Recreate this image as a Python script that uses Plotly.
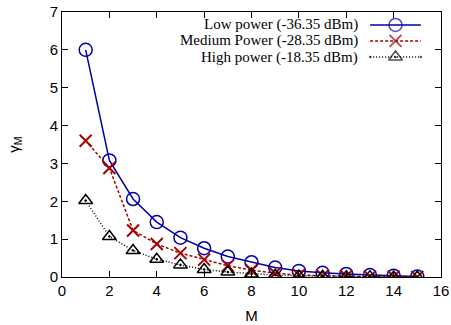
import plotly.graph_objects as go

# Number of antennas M and the resulting gamma_M for three transmit power levels
m_values = list(range(1, 16))
low_power = [6.0, 3.08, 2.06, 1.45, 1.04, 0.76, 0.54, 0.39, 0.25, 0.16, 0.11, 0.08, 0.05, 0.03, 0.01]
medium_power = [3.6, 2.88, 1.23, 0.87, 0.63, 0.46, 0.30, 0.18, 0.10, 0.05, 0.03, 0.02, 0.01, 0.01, 0.0]
high_power = [2.02, 1.07, 0.70, 0.47, 0.32, 0.20, 0.13, 0.08, 0.05, 0.03, 0.02, 0.01, 0.01, 0.0, 0.0]

series_names = [
    "Low power (-36.35 dBm)",
    "Medium Power (-28.35 dBm)",
    "High power (-18.35 dBm)",
]

styles = [
    dict(color="#0000a8", dash="solid", symbol="circle-open", size=13, mw=1.5),
    dict(color="#a80000", dash="3px,2px", symbol="x-thin-open", size=12, mw=2),
    dict(color="#000000", dash="1px,2px", symbol="triangle-up-open-dot", size=12, mw=1.5),
]

fig = go.Figure()
for name, ys, st in zip(series_names, [low_power, medium_power, high_power], styles):
    fig.add_trace(go.Scatter(
        x=m_values, y=ys, name=name, mode="lines+markers",
        line=dict(color=st["color"], width=1.5, dash=st["dash"]),
        marker=dict(symbol=st["symbol"], size=st["size"],
                    color=st["color"], line=dict(color=st["color"], width=st["mw"])),
        showlegend=False,
    ))

# Key drawn gnuplot-style: right-aligned text with the line sample to its right,
# placed on an overlaid unit axis pair
key_rows = [0.951, 0.891, 0.830]
key_x = [0.813, 0.880, 0.947]
for name, row, st in zip(series_names, key_rows, styles):
    fig.add_trace(go.Scatter(
        x=key_x, y=[row] * 3, xaxis="x2", yaxis="y2",
        mode="lines+markers",
        line=dict(color=st["color"], width=1.5, dash=st["dash"]),
        marker=dict(symbol=st["symbol"], size=[0, st["size"], 0],
                    color=st["color"], line=dict(color=st["color"], width=st["mw"])),
        showlegend=False, hoverinfo="skip",
    ))
    fig.add_annotation(
        text=name, xref="x2", yref="y2", x=0.787, y=row,
        xanchor="right", yanchor="middle", showarrow=False,
        font=dict(family="Liberation Serif", size=15, color="#000000"),
    )

axis_common = dict(
    showline=True, linecolor="#000000", linewidth=1, mirror="ticks",
    ticks="inside", ticklen=6, tickwidth=1, tickcolor="#000000",
    showgrid=False, zeroline=False, automargin=False,
    tickfont=dict(family="Liberation Sans", size=15, color="#000000"),
)

fig.update_layout(
    width=451, height=325,
    margin=dict(l=62, r=10, t=12, b=48),
    paper_bgcolor="#ffffff", plot_bgcolor="#ffffff",
    showlegend=False,
    xaxis=dict(range=[0, 16], dtick=2, tick0=0,
               title=dict(text="M", standoff=12,
                          font=dict(family="Liberation Sans", size=15, color="#000000")),
               **axis_common),
    yaxis=dict(range=[0, 7], dtick=1, tick0=0,
               title=dict(text="γ<sub>M</sub>", standoff=26,
                          font=dict(family="Liberation Sans", size=15, color="#000000")),
               **axis_common),
    xaxis2=dict(range=[0, 1], visible=False, overlaying="x", anchor="y2"),
    yaxis2=dict(range=[0, 1], visible=False, overlaying="y", anchor="x2"),
)

fig.write_html("out.html")
